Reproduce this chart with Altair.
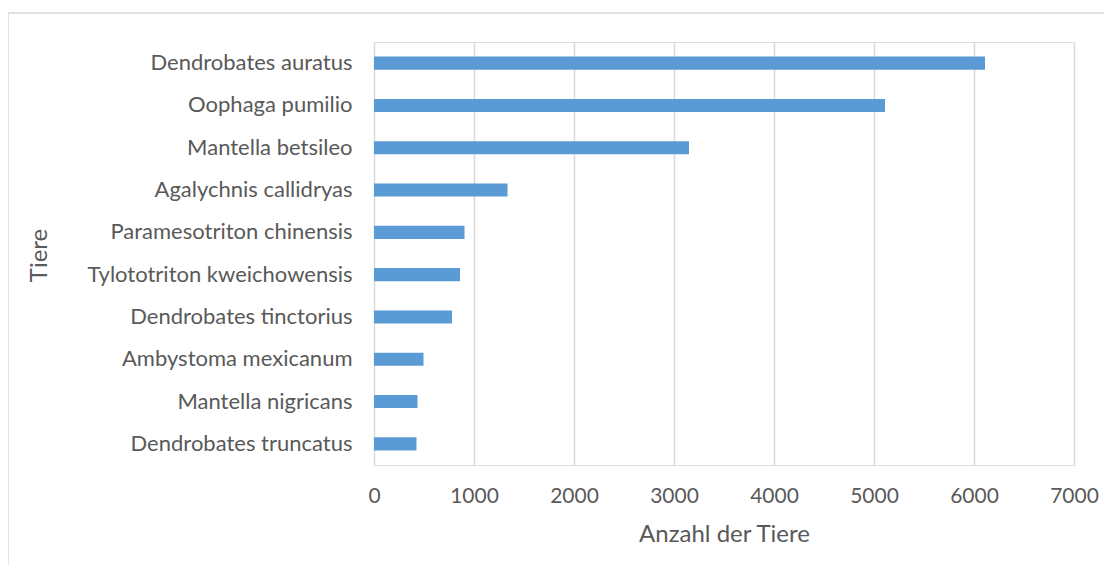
import altair as alt
import pandas as pd

species = [
    "Dendrobates auratus",
    "Oophaga pumilio",
    "Mantella betsileo",
    "Agalychnis callidryas",
    "Paramesotriton chinensis",
    "Tylototriton kweichowensis",
    "Dendrobates tinctorius",
    "Ambystoma mexicanum",
    "Mantella nigricans",
    "Dendrobates truncatus",
]
counts = [6110, 5110, 3150, 1335, 905, 860, 780, 495, 435, 425]
x_ticks = [0, 1000, 2000, 3000, 4000, 5000, 6000, 7000]

df = pd.DataFrame({"Tiere": species, "Anzahl": counts})

FONT = "Lato"
GREY = "#595959"

bars = alt.Chart(df).mark_bar(color="#5b9bd5").encode(
    y=alt.Y(
        "Tiere:N",
        sort=species,
        scale=alt.Scale(paddingInner=0.69, paddingOuter=0.345),
        axis=alt.Axis(
            title="Tiere",
            titleFont=FONT,
            titleFontSize=24,
            titleFontWeight="normal",
            titleColor=GREY,
            titleX=-323,
            titleY=213,
            titleAlign="center",
            titleAngle=-90,
            labelFont=FONT,
            labelFontSize=22,
            labelColor=GREY,
            labelPadding=22,
            labelLimit=500,
            ticks=False,
            domain=False,
            grid=False,
        ),
    ),
    x=alt.X(
        "Anzahl:Q",
        scale=alt.Scale(domain=[0, 7000], nice=False),
        axis=alt.Axis(
            title="Anzahl der Tiere",
            values=x_ticks,
            format="d",
            labelFlush=False,
            titleFont=FONT,
            titleFontSize=24,
            titleFontWeight="normal",
            titleColor=GREY,
            titlePadding=16,
            labelFont=FONT,
            labelFontSize=21,
            labelColor=GREY,
            labelPadding=20,
            ticks=False,
            domain=False,
            grid=True,
            gridColor="#d9d9d9",
            gridWidth=1.5,
        ),
    ),
)

border = alt.Chart(pd.DataFrame({"a": [0]})).mark_rect(
    fill=None, stroke="#d9d9d9", strokeWidth=1.5, clip=False
).encode(
    x=alt.value(-366), x2=alt.value(760), y=alt.value(-29), y2=alt.value(600)
)

chart = (
    alt.layer(border, bars)
    .properties(
        width=700,
        height=423,
        autosize=alt.AutoSizeParams(type="none"),
        padding={"left": 366, "top": 34, "right": 30, "bottom": 100},
    )
    .configure_view(stroke=None)
    .configure(background="white")
)

chart.save("out.html", embed_options={"renderer": "svg", "actions": False})
